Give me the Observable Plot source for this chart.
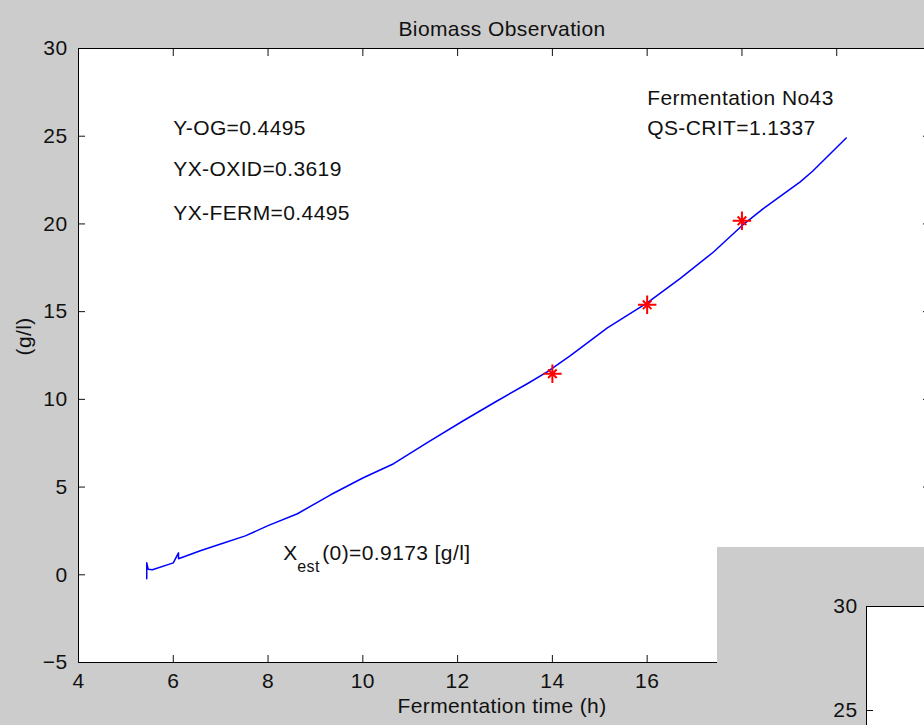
<!DOCTYPE html>
<html>
<head>
<meta charset="utf-8">
<script src="https://cdn.jsdelivr.net/npm/d3@7"></script>
<script src="https://cdn.jsdelivr.net/npm/@observablehq/plot@0.6"></script>
<style>
  html, body { margin: 0; padding: 0; background: #cccccc; overflow: hidden; }
  #wrap { position: relative; width: 924px; height: 725px; overflow: hidden; background: #cccccc; }
  #main { position: absolute; left: 0; top: 0; width: 931px; height: 725px; }
  #win2 { position: absolute; left: 717px; top: 547px; width: 207px; height: 178px; overflow: hidden; background: #cccccc; }
  #win2 > div { width: 320px; height: 277px; }
</style>
</head>
<body>
<div id="wrap">
  <div id="main"></div>
  <div id="win2"><div id="win2in"></div></div>
</div>
<script>
// ---- data ----
const xTicks = [4, 6, 8, 10, 12, 14, 16, 18, 20, 22];
const xTickLabels = [4, 6, 8, 10, 12, 14, 16];   // labels visible (others hidden under the second window)
const yTicks = [-5, 0, 5, 10, 15, 20, 25, 30];

const timeH = [5.44, 5.44, 5.47, 5.56, 6.0, 6.11, 6.11, 6.57, 7.0, 7.52, 8.0, 8.62, 9.32, 10.01, 10.65, 11.36, 12.12, 12.84, 13.47, 13.89, 14.38, 15.16, 16.0, 16.7, 17.4, 18.0, 18.45, 19.23, 19.49, 20.2];
const biomass = [-0.23, 0.68, 0.32, 0.29, 0.68, 1.25, 0.91, 1.37, 1.75, 2.22, 2.8, 3.48, 4.56, 5.53, 6.33, 7.53, 8.78, 9.92, 10.89, 11.57, 12.49, 14.08, 15.5, 16.9, 18.4, 19.9, 20.87, 22.4, 23.0, 24.9];

const sampleTime = [14, 16, 18];
const sampleBiomass = [11.46, 15.39, 20.18];

const notes = ["Y-OG=0.4495", "YX-OXID=0.3619", "YX-FERM=0.4495", "Fermentation No43", "QS-CRIT=1.1337"];
const noteX = [6, 6, 6, 16, 16];
const noteY = [25.45, 23.1, 20.6, 27.15, 25.45];

const estParts = ["X", "est", "(0)=0.9173 [g/l]"];
const estX = 8.32;
const estY = 1.22;

const win2Ticks = [25, 30];

// ---- build ----
const curve = timeH.map((t, i) => ({t, b: biomass[i]}));
const samples = sampleTime.map((t, i) => ({t, b: sampleBiomass[i]}));

const font = "'Liberation Sans', Arial, sans-serif";
const ink = "#111";
const baseStyle = {background: "#cccccc", fontFamily: font, fontSize: "21px", color: ink, maxWidth: "none", letterSpacing: "0.4px"};

const main = Plot.plot({
  width: 931,
  height: 725,
  marginLeft: 78,
  marginRight: 0,
  marginTop: 48,
  marginBottom: 63,
  style: baseStyle,
  x: {domain: [4, 22], label: null},
  y: {domain: [-5, 30], label: null},
  marks: [
    Plot.frame({fill: "white", stroke: null}),
    Plot.axisX({anchor: "bottom", ticks: xTicks, tickSize: -7, tickFormat: () => "", label: null}),
    Plot.axisX({anchor: "bottom", ticks: xTickLabels, tickSize: 0, tickPadding: 11, label: null, fontSize: 21}),
    Plot.axisX({anchor: "top", ticks: xTicks, tickSize: -7, tickFormat: () => "", label: null}),
    Plot.axisY({anchor: "left", ticks: yTicks, tickSize: -7, tickPadding: 18, label: null, fontSize: 21}),
    Plot.axisY({anchor: "right", ticks: yTicks, tickSize: -9, tickFormat: () => "", label: null}),
    Plot.line(curve, {x: "t", y: "b", stroke: "#0000ff", strokeWidth: 1.5}),
    Plot.dot(samples, {x: "t", y: "b", symbol: "plus", r: 6, stroke: "#ff0000", strokeWidth: 2}),
    Plot.dot(samples, {x: "t", y: "b", symbol: "times", r: 4, stroke: "#ff0000", strokeWidth: 2}),
    Plot.text(notes, {x: (d, i) => noteX[i], y: (d, i) => noteY[i], text: d => d, textAnchor: "start", fontSize: 21, fill: ink}),
    Plot.text([estParts[0]], {x: () => estX, y: () => estY, text: d => d, textAnchor: "start", fontSize: 21, fill: ink}),
    Plot.text([estParts[1]], {x: () => estX, y: () => estY, text: d => d, textAnchor: "start", dx: 14, dy: 13, fontSize: 16, fill: ink}),
    Plot.text([estParts[2]], {x: () => estX, y: () => estY, text: d => d, textAnchor: "start", dx: 39, fontSize: 21, fill: ink}),
    Plot.text(["Biomass Observation"], {frameAnchor: "top", dx: -3, dy: -27, text: d => d, fontSize: 21, fill: ink}),
    Plot.text(["(g/l)"], {frameAnchor: "left", dx: -54, rotate: -90, text: d => d, fontSize: 21, fill: ink}),
    Plot.text(["Fermentation time (h)"], {frameAnchor: "bottom", dx: -3, dy: 50, text: d => d, fontSize: 21, fill: ink}),
    Plot.frame({stroke: "#000", strokeWidth: 1})
  ]
});
document.getElementById("main").appendChild(main);

const win2 = Plot.plot({
  width: 320,
  height: 277,
  marginLeft: 149,
  marginRight: 0,
  marginTop: 59,
  marginBottom: 10,
  style: baseStyle,
  x: {domain: [0, 1], axis: null},
  y: {domain: [20, 30], label: null},
  marks: [
    Plot.frame({fill: "white", stroke: null}),
    Plot.axisY({anchor: "left", ticks: win2Ticks, tickSize: -7, tickPadding: 16, label: null, fontSize: 21}),
    Plot.frame({stroke: "#000", strokeWidth: 1})
  ]
});
document.getElementById("win2in").appendChild(win2);
</script>
</body>
</html>
